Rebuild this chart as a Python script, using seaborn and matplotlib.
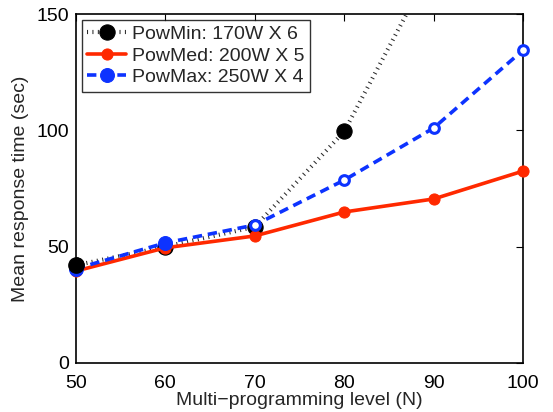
import matplotlib
matplotlib.use("Agg")
import matplotlib.pyplot as plt
import seaborn as sns
import pandas as pd

# Mean response time vs. multi-programming level for three power budgets
levels = [50, 60, 70, 80, 90, 100]
pow_min = [42, 50, 58.5, 99.5, 172, 260]
pow_med = [39.5, 49.5, 54.6, 64.9, 70.5, 82.5]
pow_max = [40.5, 51.6, 59.3, 78.6, 101, 134.5]
labels = ["PowMin: 170W X 6", "PowMed: 200W X 5", "PowMax: 250W X 4"]
x_ticks = [50, 60, 70, 80, 90, 100]
y_ticks = [0, 50, 100, 150]

sns.set_style("white")
plt.rcParams["font.family"] = ["Liberation Sans", "DejaVu Sans"]
plt.rcParams["font.size"] = 14

df = pd.DataFrame({"N": levels, "min": pow_min, "med": pow_med, "max": pow_max})

fig = plt.figure(figsize=(5.53, 4.12), dpi=100)
ax = fig.add_axes([0.137, 0.119, 0.809, 0.847])

red = (1.0, 0.16, 0.0)
blue = (0.05, 0.2, 1.0)

sns.lineplot(data=df, x="N", y="min", ax=ax, color="#2a2a2a", lw=3.0,
             marker="o", markersize=11, markerfacecolor="black",
             markeredgecolor="black", label=labels[0])
ax.lines[-1].set_dashes((0.25, 1.05))
ax.lines[-1].set_dash_capstyle("butt")
# keep the first PowMin marker whole where it sits on the axis edge
ax.plot(df["N"][:1], df["min"][:1], ls="none", marker="o", markersize=11,
        color="black", clip_on=False, zorder=2.5)

sns.lineplot(data=df, x="N", y="med", ax=ax, color=red, lw=2.6,
             marker="o", markersize=8, markerfacecolor=red,
             markeredgecolor=red, label=labels[1])
ax.lines[-1].set_clip_on(False)

sns.lineplot(data=df, x="N", y="max", ax=ax, color=blue, lw=2.6,
             marker="o", markersize=10, markerfacecolor=blue,
             markeredgecolor=blue, label=labels[2])
ax.lines[-1].set_dashes((2.6, 1.6))
ax.lines[-1].set_markevery([0, 1])
ax.lines[-1].set_clip_on(False)
# open rings on the later points of the PowMax series
ax.plot(df["N"][2:], df["max"][2:], ls="none", marker="o", markersize=7,
        markerfacecolor="white", markeredgecolor=blue, markeredgewidth=2.2,
        clip_on=False)

ax.set_xlim(50, 100)
ax.set_ylim(0, 150)
ax.set_xticks(x_ticks)
ax.set_yticks(y_ticks)
ax.set_xlabel("Multi\u2212programming level (N)", fontsize=14, labelpad=0)
ax.set_ylabel("Mean response time (sec)", fontsize=14, labelpad=5)
ax.tick_params(direction="in", length=5, width=0.8, top=True, right=True,
               labelsize=14, colors="black")
ax.tick_params(axis="x", pad=9)
ax.tick_params(axis="y", pad=5)
for s in ax.spines.values():
    s.set_color("black")
    s.set_linewidth(1.2)
    s.set_visible(True)
    s.set_zorder(1)

leg = ax.legend(loc="upper left", fontsize=14, frameon=True, fancybox=False,
                borderpad=0.3, labelspacing=0.2, handlelength=2.0,
                handletextpad=0.3, borderaxespad=0.3)
leg.get_frame().set_edgecolor("black")
leg.get_frame().set_linewidth(1.0)

fig.savefig("out.png", dpi=100)
